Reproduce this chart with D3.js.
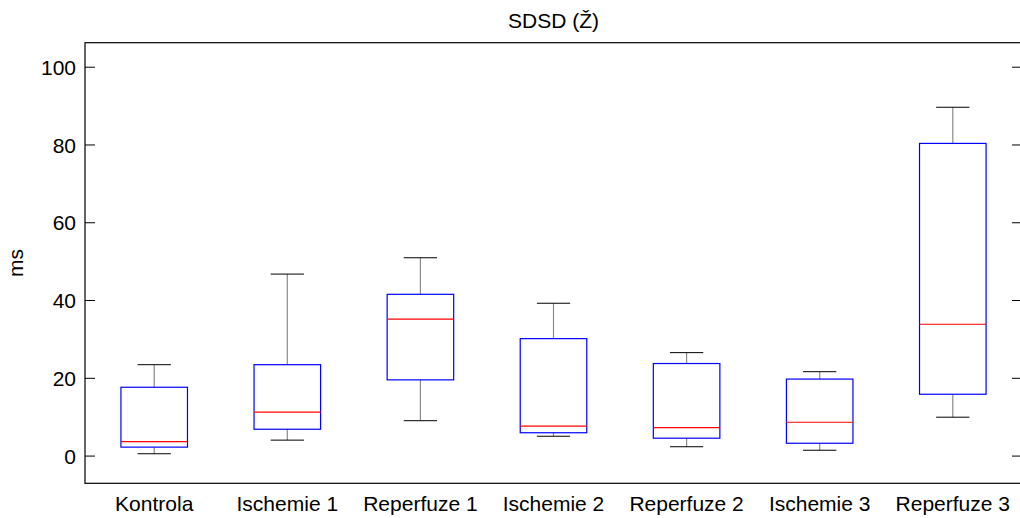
<!DOCTYPE html>
<html>
<head>
<meta charset="utf-8">
<script src="https://cdn.jsdelivr.net/npm/d3@7"></script>
<style>
  html, body { margin: 0; padding: 0; background: #fff; }
  svg { display: block; font-family: "Liberation Sans", Arial, sans-serif; }
</style>
</head>
<body>
<svg id="chart" width="1020" height="518"></svg>
<script>
// Box-plot summary of SDSD per experimental phase (ms)
const categories   = ["Kontrola", "Ischemie 1", "Reperfuze 1", "Ischemie 2", "Reperfuze 2", "Ischemie 3", "Reperfuze 3"];
const whiskerLow   = [0.6, 4.1, 9.1, 5.1, 2.4, 1.5, 10.0];
const quartile1    = [2.3, 6.9, 19.6, 6.0, 4.6, 3.3, 15.9];
const medians      = [3.7, 11.3, 35.2, 7.7, 7.3, 8.7, 33.9];
const quartile3    = [17.7, 23.5, 41.6, 30.2, 23.8, 19.8, 80.4];
const whiskerHigh  = [23.5, 46.8, 51.0, 39.3, 26.6, 21.7, 89.7];
const yTicks       = [0, 20, 40, 60, 80, 100];
const titleText    = "SDSD (Ž)";
const yLabel       = "ms";

const svg = d3.select("#chart");
const plot = { left: 85, right: 1022, top: 42.7, bottom: 483.3 };
const fontSize = 21;

const x = d3.scaleLinear().domain([0.48, categories.length + 0.52]).range([plot.left, plot.right]);
const y = d3.scaleLinear().domain([-7, 106.3]).range([plot.bottom, plot.top]);

const boxHalf = (x(1.25) - x(1));   // box width 0.5 units
const capHalf = (x(1.125) - x(1));  // cap width 0.25 units

const rows = categories.map((c, i) => ({
  name: c, pos: i + 1,
  lo: whiskerLow[i], q1: quartile1[i], med: medians[i], q3: quartile3[i], hi: whiskerHigh[i]
}));

const g = svg.append("g");

// whisker stems
g.selectAll(".stem-up").data(rows).join("line")
  .attr("x1", d => x(d.pos)).attr("x2", d => x(d.pos))
  .attr("y1", d => y(d.q3)).attr("y2", d => y(d.hi))
  .attr("stroke", "#8a8a8a").attr("stroke-width", 1.2);
g.selectAll(".stem-down").data(rows).join("line")
  .attr("x1", d => x(d.pos)).attr("x2", d => x(d.pos))
  .attr("y1", d => y(d.q1)).attr("y2", d => y(d.lo))
  .attr("stroke", "#8a8a8a").attr("stroke-width", 1.2);

// whisker caps
["hi", "lo"].forEach(k => {
  g.selectAll(".cap-" + k).data(rows).join("line")
    .attr("x1", d => x(d.pos) - capHalf).attr("x2", d => x(d.pos) + capHalf)
    .attr("y1", d => y(d[k])).attr("y2", d => y(d[k]))
    .attr("stroke", "#000").attr("stroke-width", 1);
});

// boxes
g.selectAll(".box").data(rows).join("rect")
  .attr("x", d => x(d.pos) - boxHalf)
  .attr("width", boxHalf * 2)
  .attr("y", d => y(d.q3))
  .attr("height", d => y(d.q1) - y(d.q3))
  .attr("fill", "none").attr("stroke", "#0000ff").attr("stroke-width", 1.2);

// medians
g.selectAll(".median").data(rows).join("line")
  .attr("x1", d => x(d.pos) - boxHalf).attr("x2", d => x(d.pos) + boxHalf)
  .attr("y1", d => y(d.med)).attr("y2", d => y(d.med))
  .attr("stroke", "#ff0000").attr("stroke-width", 1.2);

// frame
const frame = svg.append("g").attr("stroke", "#000").attr("stroke-width", 1.2).attr("fill", "none");
frame.append("rect")
  .attr("x", plot.left).attr("y", plot.top)
  .attr("width", plot.right - plot.left).attr("height", plot.bottom - plot.top);

// y ticks on both sides, pointing inward
const tickLen = 10;
yTicks.forEach(t => {
  frame.append("line").attr("x1", plot.left).attr("x2", plot.left + tickLen)
    .attr("y1", y(t)).attr("y2", y(t)).attr("stroke-width", 1);
  frame.append("line").attr("x1", plot.right).attr("x2", plot.right - tickLen)
    .attr("y1", y(t)).attr("y2", y(t)).attr("stroke-width", 1);
});

// y tick labels
svg.append("g").selectAll("text").data(yTicks).join("text")
  .attr("x", plot.left - 9)
  .attr("y", d => y(d))
  .attr("dy", "0.36em")
  .attr("text-anchor", "end")
  .attr("font-size", fontSize)
  .attr("fill", "#000")
  .text(d => d);

// category labels
svg.append("g").selectAll("text").data(rows).join("text")
  .attr("x", d => x(d.pos))
  .attr("y", 511)
  .attr("text-anchor", "middle")
  .attr("font-size", fontSize)
  .attr("fill", "#000")
  .text(d => d.name);

// title
svg.append("text")
  .attr("x", (plot.left + plot.right) / 2)
  .attr("y", 28)
  .attr("text-anchor", "middle")
  .attr("font-size", fontSize)
  .attr("fill", "#000")
  .text(titleText);

// y axis label
svg.append("text")
  .attr("transform", `translate(23, ${(plot.top + plot.bottom) / 2}) rotate(-90)`)
  .attr("text-anchor", "middle")
  .attr("font-size", fontSize)
  .attr("fill", "#000")
  .text(yLabel);
</script>
</body>
</html>
